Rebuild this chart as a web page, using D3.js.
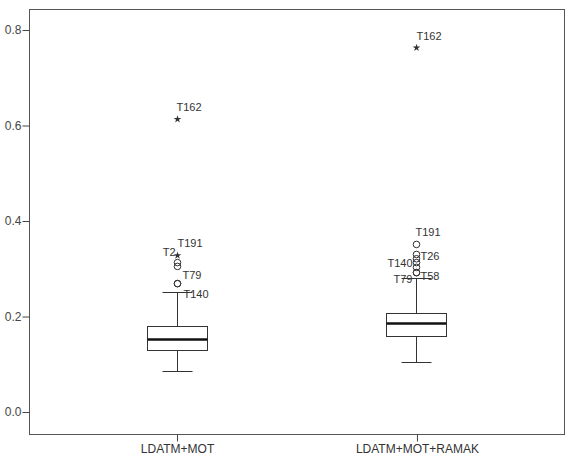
<!DOCTYPE html>
<html>
<head>
<meta charset="utf-8">
<script src="https://cdn.jsdelivr.net/npm/d3@7"></script>
<style>
  body { margin: 0; background: #fff; }
  text { font-family: "Liberation Sans", Arial, sans-serif; }
</style>
</head>
<body>
<svg id="chart" width="571" height="460"></svg>
<script>
// data
const groups = ["LDATM+MOT", "LDATM+MOT+RAMAK"];
const lowerWhisker = [0.086, 0.105];
const q1 = [0.130, 0.159];
const median = [0.153, 0.186];
const q3 = [0.180, 0.207];
const upperWhisker = [0.251, 0.281];
const yTicks = [0.0, 0.2, 0.4, 0.6, 0.8];

// outliers: [group index, value, kind, label]
const outliers = [
  [0, 0.614, "star", "T162"],
  [0, 0.329, "star", "T2"],
  [0, 0.314, "circle", "T191"],
  [0, 0.306, "circle", ""],
  [0, 0.270, "circle", "T79"],
  [0, 0.270, "circle", "T140"],
  [1, 0.764, "star", "T162"],
  [1, 0.352, "circle", "T191"],
  [1, 0.331, "circle", "T26"],
  [1, 0.322, "circle", ""],
  [1, 0.314, "circle", "T140"],
  [1, 0.304, "circle", ""],
  [1, 0.293, "circle", "T58"],
  [1, 0.293, "circle", "T79"]
];

// where each label sits next to its point
const labelPlace = {
  "0T162": [-1, -11, "start"], "0T2": [-2, -2, "end"], "0T191": [0, -18, "start"],
  "0T79": [5, -8, "start"], "0T140": [6, 11, "start"],
  "1T162": [0, -11, "start"], "1T191": [-1, -11, "start"], "1T26": [4, 3, "start"],
  "1T140": [-4, 2, "end"], "1T58": [4, 4, "start"], "1T79": [-4, 7, "end"]
};

const svg = d3.select("#chart");
const plotLeft = 29, plotRight = 564, plotTop = 9, plotBottom = 434;

const x = d3.scalePoint()
  .domain(groups)
  .range([plotLeft, plotRight])
  .padding(0.615);

const y = d3.scaleLinear()
  .domain([-0.046, 0.844])
  .range([plotBottom, plotTop]);

const ink = "#333";
const boxHalf = 30, capHalf = 15;

// frame
svg.append("rect")
  .attr("x", plotLeft + 0.5).attr("y", plotTop + 0.5)
  .attr("width", plotRight - plotLeft).attr("height", plotBottom - plotTop)
  .attr("fill", "none").attr("stroke", "#555");

// y axis
const yAxis = svg.append("g")
  .attr("transform", `translate(${plotLeft + 0.5},0)`)
  .call(d3.axisLeft(y).tickValues(yTicks).tickFormat(d3.format(".1f")).tickSize(7).tickPadding(1));
yAxis.select(".domain").remove();
yAxis.selectAll("line").attr("stroke", "#444");
yAxis.selectAll("text").attr("fill", "#444").style("font-size", "12px")
  .style("font-family", "'Liberation Sans', Arial, sans-serif");

// x axis
const xAxis = svg.append("g")
  .attr("transform", `translate(0.5,${plotBottom + 0.5})`)
  .call(d3.axisBottom(x).tickSize(7).tickPadding(3));
xAxis.select(".domain").remove();
xAxis.selectAll("line").attr("stroke", "#444");
xAxis.selectAll("text").attr("fill", "#333").style("font-size", "12px")
  .style("font-family", "'Liberation Sans', Arial, sans-serif");

// boxes
const bx = svg.append("g").attr("transform", "translate(0.5,0.5)");
groups.forEach((g, i) => {
  const cx = Math.round(x(g));
  bx.append("line")
    .attr("x1", cx).attr("x2", cx)
    .attr("y1", Math.round(y(upperWhisker[i]))).attr("y2", Math.round(y(lowerWhisker[i])))
    .attr("stroke", ink);
  [upperWhisker[i], lowerWhisker[i]].forEach(v => {
    bx.append("line")
      .attr("x1", cx - capHalf).attr("x2", cx + capHalf)
      .attr("y1", Math.round(y(v))).attr("y2", Math.round(y(v)))
      .attr("stroke", ink);
  });
  bx.append("rect")
    .attr("x", cx - boxHalf)
    .attr("y", Math.round(y(q3[i])))
    .attr("width", boxHalf * 2)
    .attr("height", Math.round(y(q1[i])) - Math.round(y(q3[i])))
    .attr("fill", "#fff").attr("stroke", ink);
  bx.append("line")
    .attr("x1", cx - boxHalf).attr("x2", cx + boxHalf)
    .attr("y1", Math.round(y(median[i]))).attr("y2", Math.round(y(median[i])))
    .attr("stroke", "#111").attr("stroke-width", 2.5);
});

// outlier points
const star = d3.symbol().type(d3.symbolStar).size(18);
outliers.forEach(d => {
  const cx = Math.round(x(groups[d[0]])), cy = y(d[1]);
  if (d[2] === "circle") {
    bx.append("circle")
      .attr("cx", cx).attr("cy", cy).attr("r", 3.3)
      .attr("fill", "none").attr("stroke", ink);
  } else {
    bx.append("path")
      .attr("d", star)
      .attr("transform", `translate(${cx},${cy})`)
      .attr("fill", ink);
  }
  if (d[3]) {
    const p = labelPlace[d[0] + d[3]];
    bx.append("text")
      .attr("x", cx + p[0]).attr("y", cy + p[1])
      .attr("text-anchor", p[2])
      .attr("dominant-baseline", "middle")
      .attr("fill", ink)
      .style("font-size", "11px")
      .text(d[3]);
  }
});
</script>
</body>
</html>
